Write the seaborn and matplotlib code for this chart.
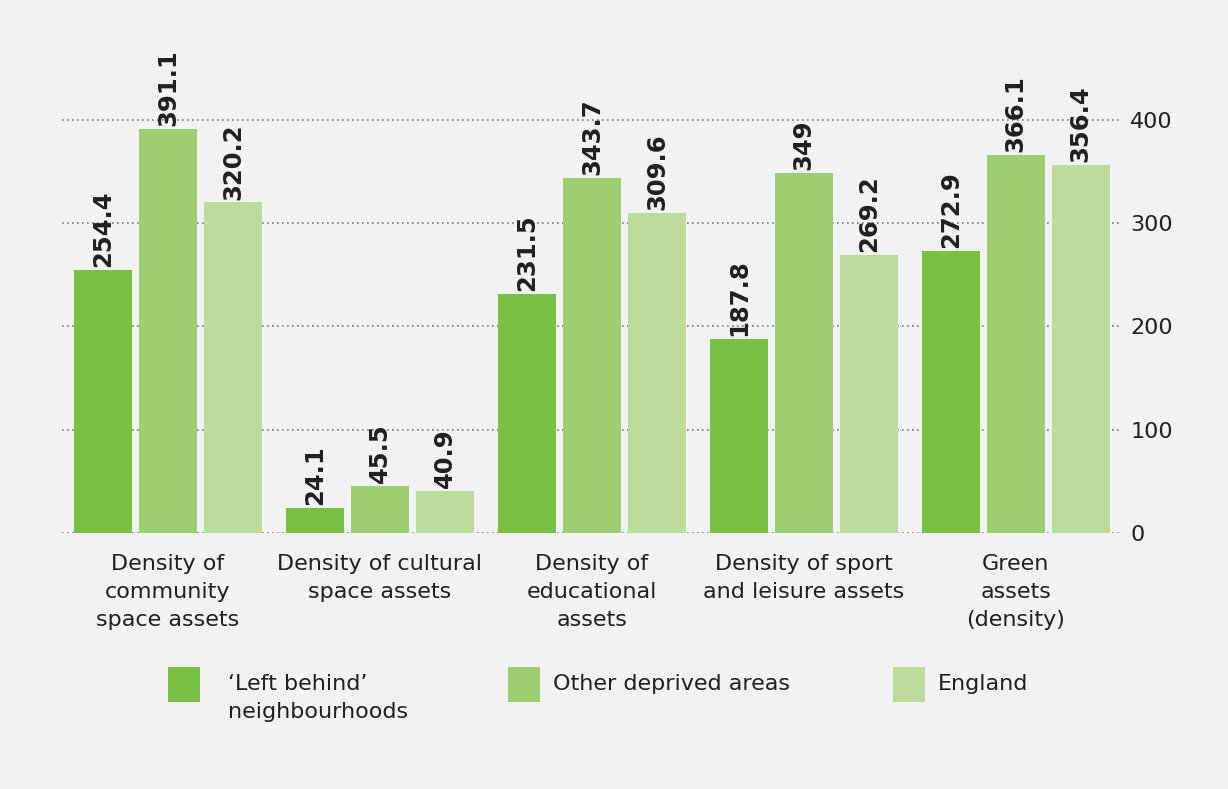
import matplotlib
matplotlib.use("Agg")
import matplotlib.pyplot as plt
from matplotlib.patches import Rectangle
import seaborn as sns
import pandas as pd

categories = ["Density of\ncommunity\nspace assets",
              "Density of cultural\nspace assets",
              "Density of\neducational\nassets",
              "Density of sport\nand leisure assets",
              "Green\nassets\n(density)"]
series_names = ["\u2018Left behind\u2019\nneighbourhoods", "Other deprived areas", "England"]
left_behind = [254.4, 24.1, 231.5, 187.8, 272.9]
other_deprived = [391.1, 45.5, 343.7, 349, 366.1]
england = [320.2, 40.9, 309.6, 269.2, 356.4]
yticks = [0, 100, 200, 300, 400]

colors = ["#7AC143", "#9DCE70", "#BCDC9B"]
bg = "#F1F2F4"
txt = "#231F20"

rows = []
for name, vals in zip(series_names, [left_behind, other_deprived, england]):
    for c, v in zip(categories, vals):
        rows.append({"category": c, "series": name, "value": v})
df = pd.DataFrame(rows)

sns.set_theme(style="white")
plt.rcParams["font.family"] = ["DejaVu Sans"]

W, H = 1228, 789
fig = plt.figure(figsize=(W / 100, H / 100), dpi=100, facecolor=bg)
ax = fig.add_axes([0.0505, 0.3245, 0.863, 0.5497])
ax.set_facecolor(bg)

sns.barplot(data=df, x="category", y="value", hue="series", order=categories,
            hue_order=series_names, palette=colors, width=0.92, gap=0.11,
            saturation=1, ax=ax, legend=False, zorder=3, linewidth=0,
            edgecolor="none")

for cont in ax.containers:
    ax.bar_label(cont, labels=[f"{v:g}" for v in cont.datavalues], rotation=90,
                 padding=2, fontsize=17.5, fontweight="heavy", color=txt)

ax.set_xlim(-0.5, 4.5)
ax.set_ylim(0, 420)
ax.set_yticks(yticks)
ax.yaxis.tick_right()
ax.tick_params(axis="y", length=0, pad=6, labelsize=16, labelcolor=txt)
ax.tick_params(axis="x", length=0, pad=15, labelsize=16, labelcolor=txt)
for lab in ax.get_xticklabels():
    lab.set_linespacing(1.5)
ax.set_xlabel("")
ax.set_ylabel("")
for s in ax.spines.values():
    s.set_visible(False)
for y in yticks:
    ax.axhline(y, color="#7a7a7a", linestyle=(0, (1, 2)), linewidth=1.2, zorder=1,
               xmax=1.0)

# legend
patch_x = [168, 508, 893]
text_x = [228, 553, 938]
for px, tx, col, name in zip(patch_x, text_x, colors, series_names):
    fig.add_artist(Rectangle((px / W, 1 - 702 / H), 32 / W, 35 / H,
                             transform=fig.transFigure, facecolor=col,
                             edgecolor="none"))
    fig.text(tx / W, 1 - 674 / H, name, fontsize=16, color=txt, ha="left",
             va="top", linespacing=1.5)

fig.savefig("out.png", dpi=100, facecolor=bg)
